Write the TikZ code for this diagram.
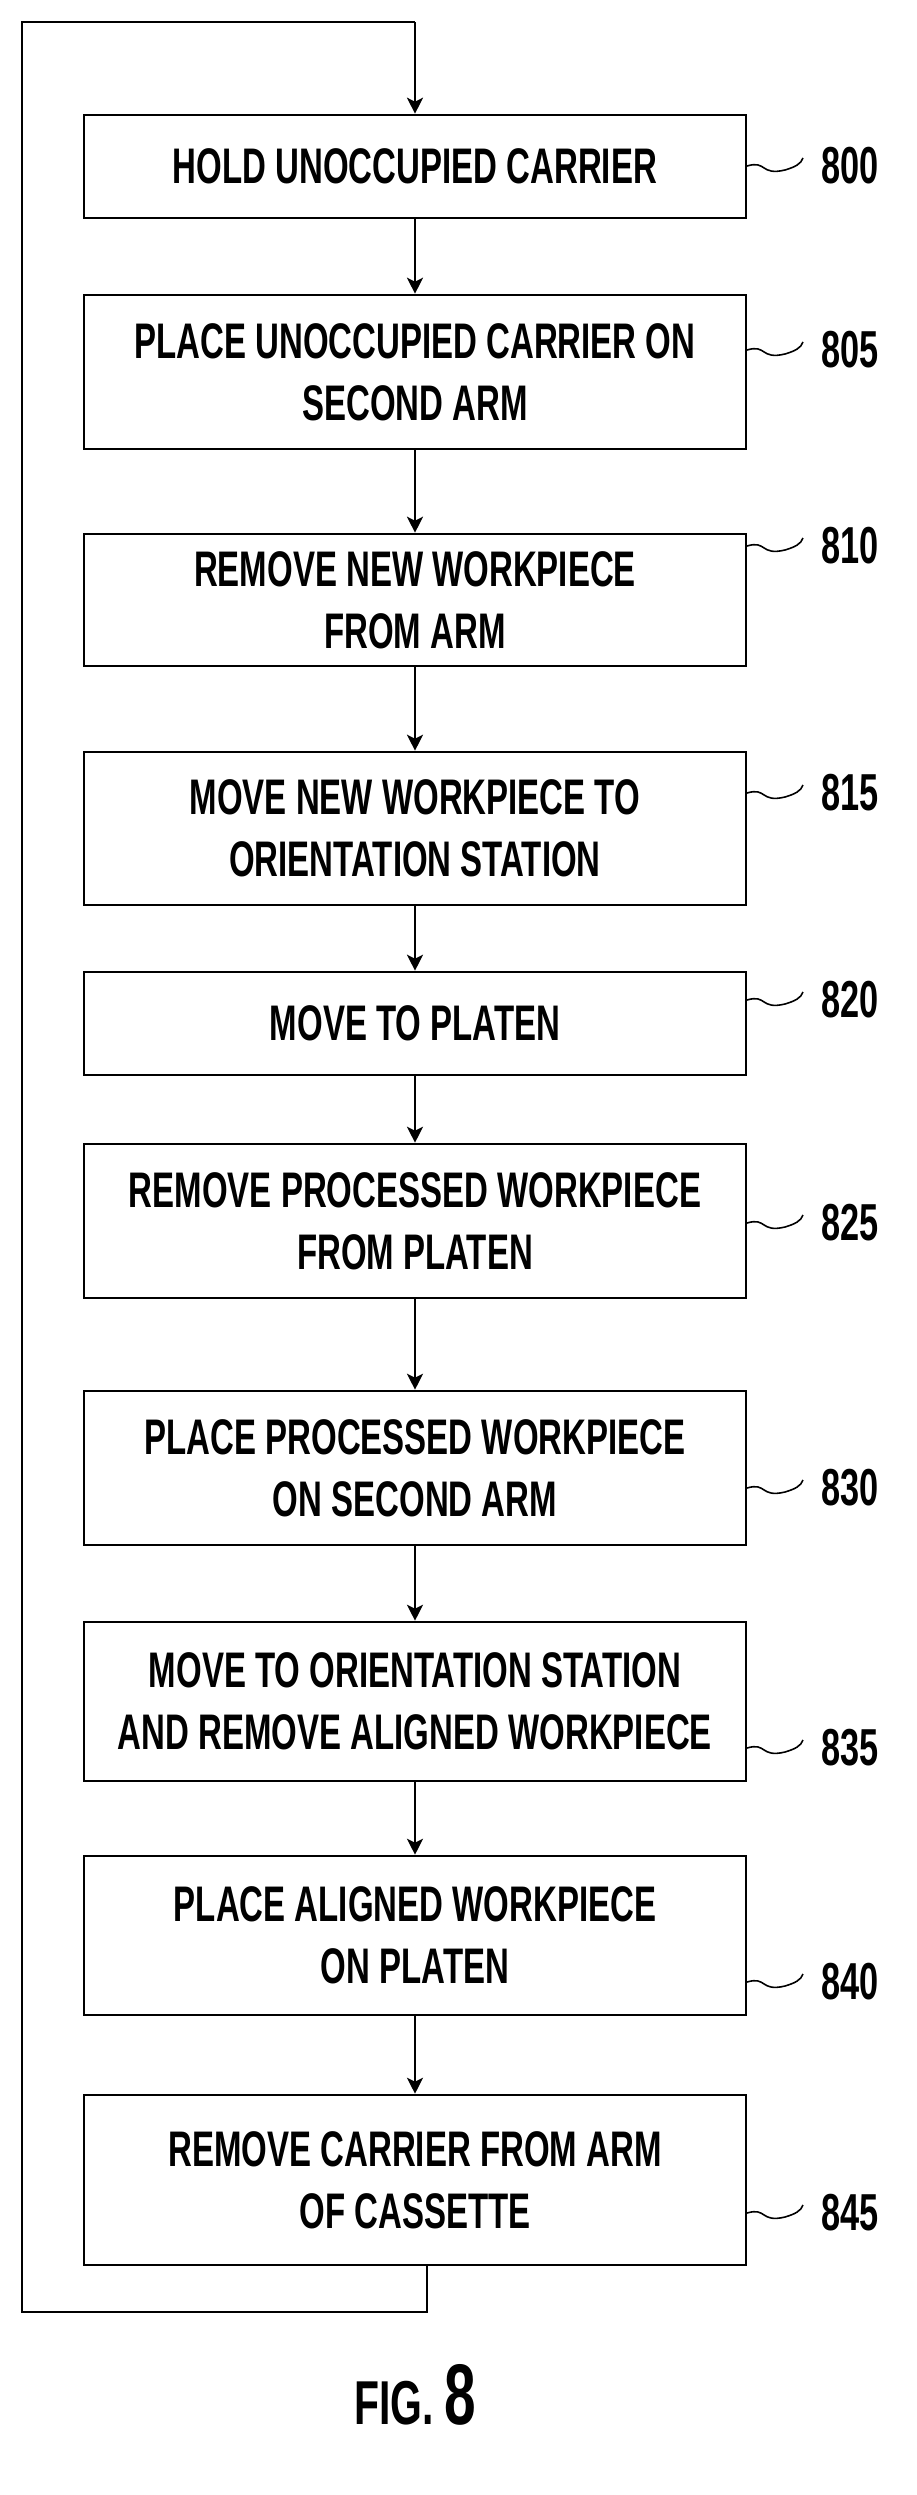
\documentclass[tikz,border=0pt]{standalone}
\usepackage{fontspec}
\setmainfont{Liberation Sans}[FakeStretch=0.66]
\usetikzlibrary{arrows.meta}
\begin{document}
\begin{tikzpicture}[x=1pt,y=-1pt,
  stepbox/.style={draw, line width=2.6pt, minimum width=662pt, align=center, font=\fontsize{50}{62}\selectfont\bfseries, inner sep=0pt},
  flow/.style={line width=2.2pt, -{Stealth[length=16pt,width=16pt,inset=4pt]}},
  loopl/.style={line width=2.2pt},
  refl/.style={line width=1.6pt},
  reftxt/.style={font=\fontsize{52}{52}\selectfont\bfseries, anchor=west}]
\useasboundingbox (0,0) rectangle (916,2495);
\def\mk#1#2#3#4#5{%
  \node[stepbox, minimum height=#3-#2] (b#1) at (415,{(#2+#3)/2}) {#4};
  \coordinate (s#1) at (747,#5);
  \draw[refl] (s#1) .. controls +(20,-6) and +(-25,6) .. +(38,4) .. controls +(10,-3) and +(-2,6) .. +(56,-8);
  \node[reftxt] (r#1) at (818,#5) {#1};}
\mk{800}{115}{218}{HOLD UNOCCUPIED CARRIER}{166}
\mk{805}{295}{449}{PLACE UNOCCUPIED CARRIER ON\\SECOND ARM}{350}
\mk{810}{534}{666}{REMOVE NEW WORKPIECE\\FROM ARM}{546}
\mk{815}{752}{905}{MOVE NEW WORKPIECE TO\\ORIENTATION STATION}{793}
\mk{820}{972}{1075}{MOVE TO PLATEN}{1000}
\mk{825}{1144}{1298}{REMOVE PROCESSED WORKPIECE\\FROM PLATEN}{1223}
\mk{830}{1391}{1545}{PLACE PROCESSED WORKPIECE\\ON SECOND ARM}{1488}
\mk{835}{1622}{1781}{MOVE TO ORIENTATION STATION\\AND REMOVE ALIGNED WORKPIECE}{1748}
\mk{840}{1856}{2015}{PLACE ALIGNED WORKPIECE\\ON PLATEN}{1982}
\mk{845}{2095}{2265}{REMOVE CARRIER FROM ARM\\OF CASSETTE}{2213}
\foreach \a/\b in {800/805,805/810,810/815,815/820,820/825,825/830,830/835,835/840,840/845}
  \draw[flow] (b\a.south) -- (b\b.north);
\coordinate (lb) at (427,2312);
\coordinate (ll) at (22,2312);
\coordinate (lt) at (22,22);
\coordinate (lr) at (415,22);
\draw[loopl] (b845.south -| lb) -- (lb) -- (ll) -- (lt) -- (lr);
\draw[flow] (lr) -- (b800.north);
\node[font=\fontsize{62}{62}\selectfont\bfseries] (fig) at (415,2395) {FIG.\,{\fontsize{86}{86}\selectfont 8}};
\end{tikzpicture}
\end{document}
